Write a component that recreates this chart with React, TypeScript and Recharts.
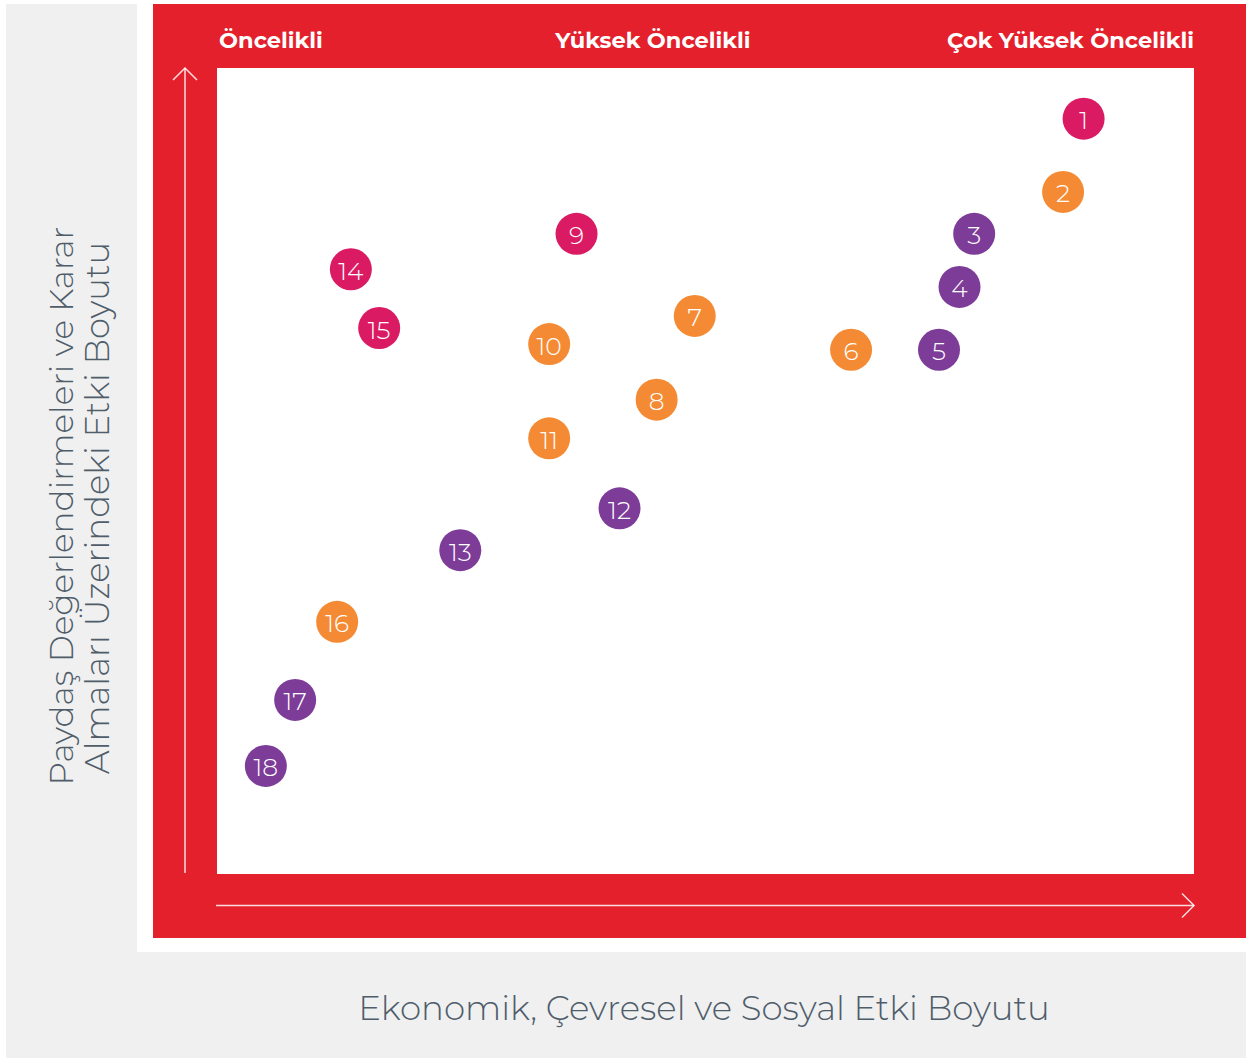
import React from 'react';
import { ScatterChart, Scatter, XAxis, YAxis } from 'recharts';

// konu numaraları ve matris üzerindeki konumları (0-100 ölçek)
const magentaTopics = [
  { id: 1, x: 88.7, y: 93.7 },
  { id: 9, x: 36.8, y: 79.4 },
  { id: 14, x: 13.7, y: 75.0 },
  { id: 15, x: 16.6, y: 67.7 },
];

const orangeTopics = [
  { id: 2, x: 86.6, y: 84.6 },
  { id: 6, x: 64.9, y: 65.0 },
  { id: 7, x: 48.9, y: 69.2 },
  { id: 8, x: 45.0, y: 58.8 },
  { id: 10, x: 34.0, y: 65.7 },
  { id: 11, x: 34.0, y: 54.0 },
  { id: 16, x: 12.3, y: 31.2 },
];

const purpleTopics = [
  { id: 3, x: 77.5, y: 79.4 },
  { id: 4, x: 76.0, y: 72.8 },
  { id: 5, x: 73.9, y: 65.0 },
  { id: 12, x: 41.2, y: 45.3 },
  { id: 13, x: 24.9, y: 40.1 },
  { id: 17, x: 8.0, y: 21.5 },
  { id: 18, x: 5.0, y: 13.3 },
];

const priorityLabels = ['Öncelikli', 'Yüksek Öncelikli', 'Çok Yüksek Öncelikli'];
const xTitle = 'Ekonomik, Çevresel ve Sosyal Etki Boyutu';
const yTitle = ['Paydaş Değerlendirmeleri ve Karar', 'Almaları Üzerindeki Etki Boyutu'];

const RED = '#e3202c';
const FONT = 'Montserrat, "Open Sans", Lato, sans-serif';

const bubble = (color: string) => (props: any) => {
  const { cx, cy, payload } = props;
  return (
    <g>
      <circle cx={cx} cy={cy} r={21} fill={color} />
      <text
        x={cx}
        y={cy + 1.5}
        textAnchor="middle"
        dominantBaseline="central"
        fill="#fff"
        fontSize={25}
        fontWeight={300}
        fontFamily={FONT}
      >
        {payload.id}
      </text>
    </g>
  );
};

const box = (left: number, top: number, w: number, h: number, bg: string): React.CSSProperties => ({
  position: 'absolute', left, top, width: w, height: h, background: bg,
});

export default function App() {
  return (
    <div style={{ position: 'absolute', left: 0, top: 0, width: 1246, height: 1058, background: '#fff', overflow: 'hidden' }}>
      <div style={box(6, 4, 1240, 1054, '#f0f0f0')} />
      <div style={box(137, 4, 1109, 948, '#fff')} />
      <div style={box(153, 4, 1093, 934, RED)} />
      <div style={box(217, 68, 977, 806, '#fff')} />

      <div style={{ position: 'absolute', left: 0, top: 0 }}>
        <ScatterChart width={1246} height={1058} margin={{ left: 217, right: 52, top: 68, bottom: 185 }}>
          <XAxis type="number" dataKey="x" domain={[0, 100]} hide />
          <YAxis type="number" dataKey="y" domain={[0, 100]} hide />
          <Scatter data={magentaTopics} shape={bubble('#da1a62')} isAnimationActive={false} />
          <Scatter data={orangeTopics} shape={bubble('#f48b34')} isAnimationActive={false} />
          <Scatter data={purpleTopics} shape={bubble('#7d3c98')} isAnimationActive={false} />
        </ScatterChart>
      </div>

      <svg width={1246} height={1058} style={{ position: 'absolute', left: 0, top: 0, pointerEvents: 'none' }}>
        <g stroke="#fff" strokeOpacity={0.85} strokeWidth={1.5} fill="none">
          <line x1={185} y1={873} x2={185} y2={68} />
          <polyline points="173,80 185,68 197,80" />
          <line x1={216} y1={905.5} x2={1194} y2={905.5} />
          <polyline points="1182,893.5 1194,905.5 1182,917.5" />
        </g>
        <g fill="#fff" fontFamily={FONT} fontWeight={700} fontSize={22.5}>
          <text x={219} y={48}>{priorityLabels[0]}</text>
          <text x={653} y={48} textAnchor="middle">{priorityLabels[1]}</text>
          <text x={1194} y={48} textAnchor="end">{priorityLabels[2]}</text>
        </g>
        <g fill="#4f5d6b" fontFamily={FONT} fontWeight={300}>
          <text x={704} y={1020} textAnchor="middle" fontSize={34}>{xTitle}</text>
          <text transform="translate(73,506) rotate(-90)" textAnchor="middle" fontSize={32.7}>{yTitle[0]}</text>
          <text transform="translate(109,508) rotate(-90)" textAnchor="middle" fontSize={33.9}>{yTitle[1]}</text>
        </g>
      </svg>
    </div>
  );
}
